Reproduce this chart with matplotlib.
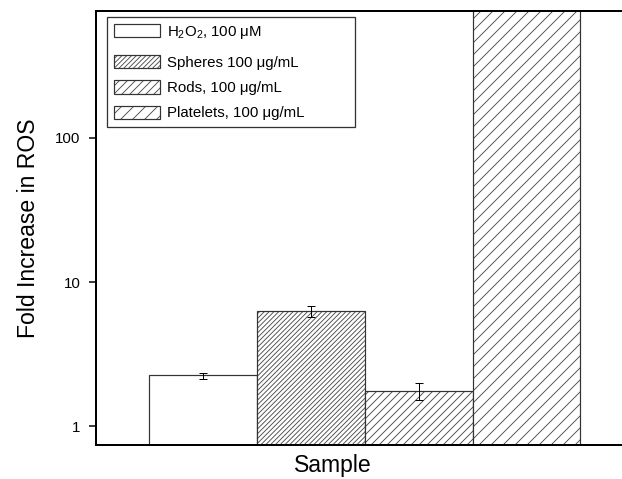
import numpy as np
import matplotlib
matplotlib.use('Agg')
import matplotlib.pyplot as plt
from matplotlib.legend_handler import HandlerPatch

plt.rcParams['font.family'] = ['Liberation Sans', 'DejaVu Sans']
plt.rcParams['mathtext.fontset'] = 'custom'
plt.rcParams['mathtext.rm'] = 'Liberation Sans'
plt.rcParams['mathtext.it'] = 'Liberation Sans:italic'
plt.rcParams['hatch.linewidth'] = 0.9

# dati
labels = [r'H$_2$O$_2$, 100 μM', 'Spheres 100 μg/mL', 'Rods, 100 μg/mL', 'Platelets, 100 μg/mL']
values = [2.24, 6.3, 1.75, 1000.0]
errors = [0.11, 0.55, 0.23, 0.0]
hatches = ['', '/////', '///', '//']


# prima voce della legenda un po' piu' alta (come nell'originale)
class TallHandler(HandlerPatch):
    def legend_artist(self, legend, orig_handle, fontsize, handlebox):
        p = super().legend_artist(legend, orig_handle, fontsize, handlebox)
        handlebox.ydescent += 7
        return p


dpi = 72
fig = plt.figure(figsize=(622 / dpi, 479 / dpi), dpi=dpi)
ax = fig.add_axes([95.6 / 622, 1 - 445 / 479, 538.5 / 622, 434 / 479])

x = np.arange(len(values))
bars = ax.bar(x, values, width=1.0, bottom=0.01, color='white',
              edgecolor='#333333', linewidth=1.2, hatch=hatches, label=labels)
for b in bars:
    b._hatch_color = (0.3, 0.3, 0.3, 1.0)
ax.errorbar(x[:3], values[:3], yerr=errors[:3], fmt='none', ecolor='black',
            elinewidth=1, capsize=4, capthick=1)

ax.set_yscale('log')
ax.set_ylim(0.74, 760)
ax.set_xlim(-1.0, 4.0)
ax.set_yticks([1, 10, 100])
ax.set_yticklabels(['1', '10', '100'])
ax.yaxis.set_minor_locator(matplotlib.ticker.NullLocator())
ax.set_xticks([])
ax.tick_params(axis='y', length=7, width=1.5, labelsize=15, pad=8)
for s in ['top', 'left', 'bottom']:
    ax.spines[s].set_linewidth(2)
ax.spines['right'].set_visible(False)

ax.set_xlabel('Sample', fontsize=23)
ax.xaxis.set_label_coords(0.44, -0.074)
ax.xaxis.label.set_va('bottom')
ax.set_ylabel('Fold Increase in ROS', fontsize=23, labelpad=15)

leg = ax.legend(loc='upper left', bbox_to_anchor=(0.021, 0.5, 0.4605, 0.486),
                mode='expand', borderaxespad=0, handler_map={bars[0]: TallHandler()},
                fontsize=15, fancybox=False, handlelength=3.1, handleheight=1.0,
                handletextpad=0.45, labelspacing=0.7, borderpad=0.45)
leg.get_frame().set_edgecolor('black')
leg.get_frame().set_linewidth(1.3)

fig.savefig('out.png', dpi=dpi)
